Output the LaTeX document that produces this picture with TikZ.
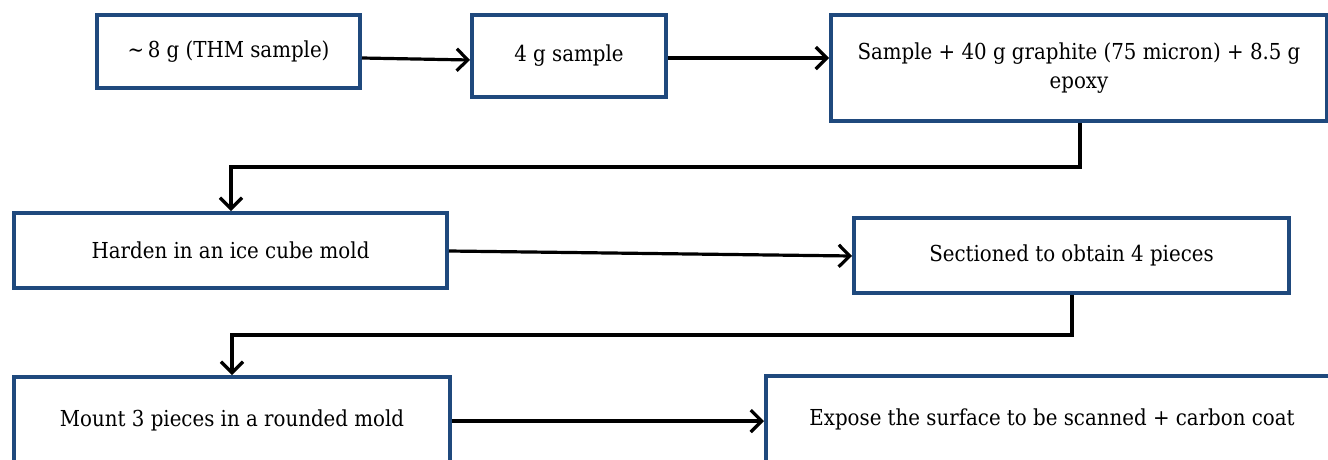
\documentclass[tikz,border=0pt]{standalone}
\usepackage{fontspec}
\setmainfont{DejaVu Serif Condensed}
\usetikzlibrary{arrows.meta}
\definecolor{boxblue}{RGB}{31,73,125}
\tikzset{
  box/.style={draw=boxblue, line width=4pt, fill=white, align=center, inner sep=0pt,
    font=\fontsize{22}{29}\selectfont},
  conn/.style={draw=black, line width=3.2pt, -{Straight Barb[length=11pt,width=22pt,line width=3.2pt]}},
}
\begin{document}
\begin{tikzpicture}[x=1pt,y=-1pt]
\useasboundingbox (0,0) rectangle (1328,459);
\clip (0,0) rectangle (1328,459);
\node[box, minimum width=263pt, minimum height=73pt] (n1) at (228.5,51.5) {\textasciitilde\,8 g (THM sample)};
\node[box, minimum width=194pt, minimum height=82pt] (n2) at (569,56) {4 g sample};
\node[box, minimum width=496pt, minimum height=106pt] (n3) at (1079,68) {Sample + 40 g graphite (75 micron) + 8.5 g\\epoxy};
\node[box, minimum width=433pt, minimum height=75pt] (n4) at (230.5,250.5) {Harden in an ice cube mold};
\node[box, minimum width=435pt, minimum height=75pt] (n5) at (1071.5,255.5) {Sectioned to obtain 4 pieces};
\node[box, minimum width=436pt, minimum height=86pt] (n6) at (232,420) {Mount 3 pieces in a rounded mold};
\node[box, minimum width=572pt, minimum height=86pt] (n7) at (1052,419) {Expose the surface to be scanned + carbon coat};
\coordinate (b1) at (1080,167);
\coordinate (b2) at (231,167);
\coordinate (c1) at (1072,335);
\coordinate (c2) at (232,335);
\draw[conn] ([yshift=-6.5pt]n1.east) -- ([yshift=-4pt]n2.west);
\draw[conn] ([yshift=-2pt]n2.east) -- ([yshift=10pt]n3.west);
\draw[conn] (n3.south -| b1) -- (b1) -- (b2) -- (n4.north -| b2);
\draw[conn] ([yshift=-0.5pt]n4.east) -- ([yshift=-0.5pt]n5.west);
\draw[conn] (n5.south -| c1) -- (c1) -- (c2) -- (n6.north -| c2);
\draw[conn] ([yshift=-1pt]n6.east) -- ([yshift=-2pt]n7.west);
\end{tikzpicture}
\end{document}
